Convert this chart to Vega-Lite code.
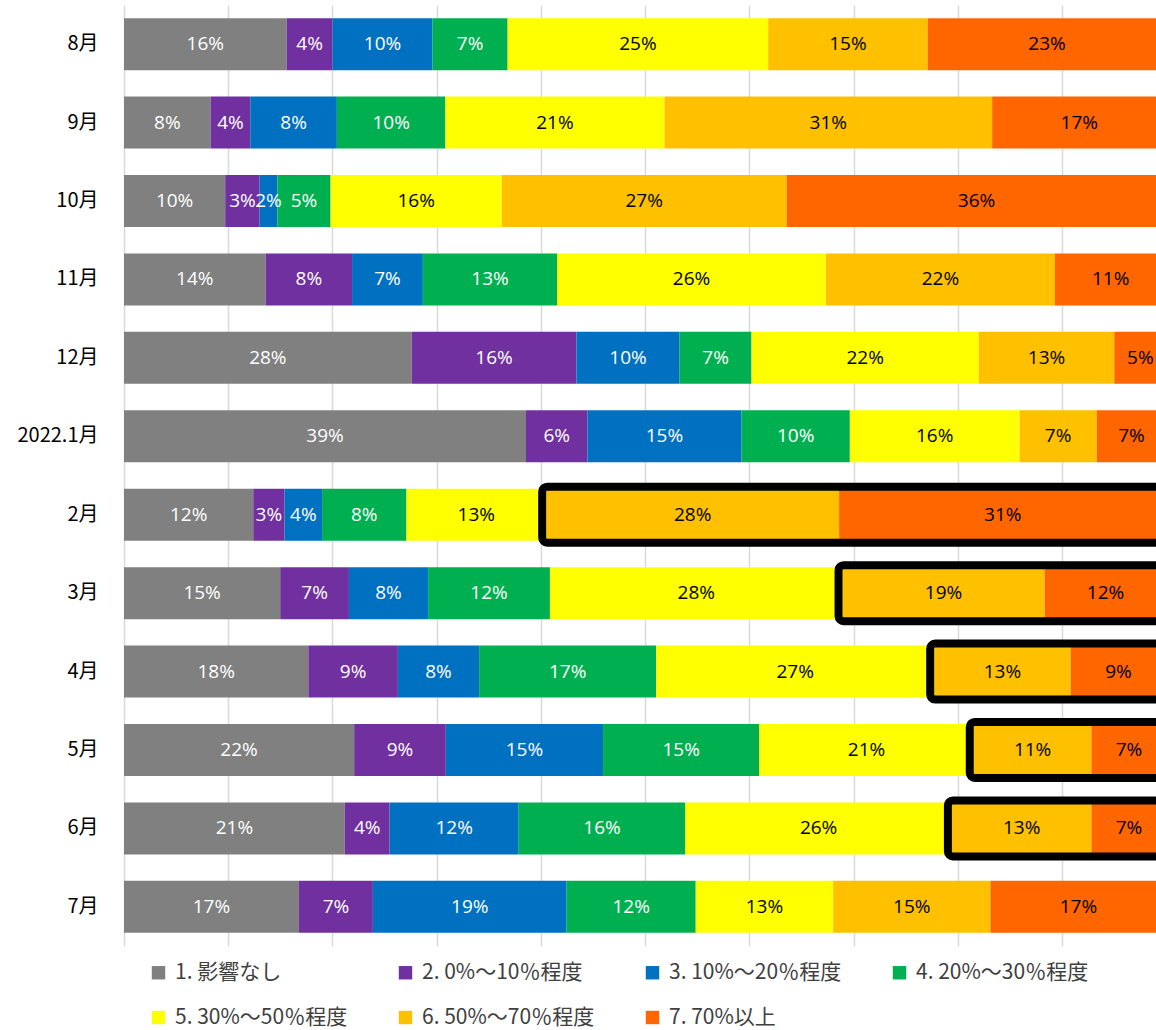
{
  "$schema": "https://vega.github.io/schema/vega-lite/v6.json",
  "width": 1032,
  "height": 941,
  "autosize": {"type": "none"},
  "padding": {"left": 124, "top": 5, "right": 0, "bottom": 84},
  "background": "white",
  "config": {"view": {"stroke": null}, "font": "Noto Sans CJK JP"},
  "data": {"values": [
    {"month": "8月", "cat": "1. 影響なし", "v": 0.156},
    {"month": "8月", "cat": "2. 0%～10％程度", "v": 0.044},
    {"month": "8月", "cat": "3. 10%～20％程度", "v": 0.096},
    {"month": "8月", "cat": "4. 20%～30％程度", "v": 0.072},
    {"month": "8月", "cat": "5. 30%～50％程度", "v": 0.250},
    {"month": "8月", "cat": "6. 50%～70％程度", "v": 0.153},
    {"month": "8月", "cat": "7. 70%以上", "v": 0.229},
    {"month": "9月", "cat": "1. 影響なし", "v": 0.083},
    {"month": "9月", "cat": "2. 0%～10％程度", "v": 0.038},
    {"month": "9月", "cat": "3. 10%～20％程度", "v": 0.083},
    {"month": "9月", "cat": "4. 20%～30％程度", "v": 0.104},
    {"month": "9月", "cat": "5. 30%～50％程度", "v": 0.210},
    {"month": "9月", "cat": "6. 50%～70％程度", "v": 0.314},
    {"month": "9月", "cat": "7. 70%以上", "v": 0.167},
    {"month": "10月", "cat": "1. 影響なし", "v": 0.097},
    {"month": "10月", "cat": "2. 0%～10％程度", "v": 0.033},
    {"month": "10月", "cat": "3. 10%～20％程度", "v": 0.017},
    {"month": "10月", "cat": "4. 20%～30％程度", "v": 0.051},
    {"month": "10月", "cat": "5. 30%～50％程度", "v": 0.164},
    {"month": "10月", "cat": "6. 50%～70％程度", "v": 0.273},
    {"month": "10月", "cat": "7. 70%以上", "v": 0.364},
    {"month": "11月", "cat": "1. 影響なし", "v": 0.136},
    {"month": "11月", "cat": "2. 0%～10％程度", "v": 0.083},
    {"month": "11月", "cat": "3. 10%～20％程度", "v": 0.068},
    {"month": "11月", "cat": "4. 20%～30％程度", "v": 0.129},
    {"month": "11月", "cat": "5. 30%～50％程度", "v": 0.258},
    {"month": "11月", "cat": "6. 50%～70％程度", "v": 0.220},
    {"month": "11月", "cat": "7. 70%以上", "v": 0.107},
    {"month": "12月", "cat": "1. 影響なし", "v": 0.276},
    {"month": "12月", "cat": "2. 0%～10％程度", "v": 0.158},
    {"month": "12月", "cat": "3. 10%～20％程度", "v": 0.099},
    {"month": "12月", "cat": "4. 20%～30％程度", "v": 0.069},
    {"month": "12月", "cat": "5. 30%～50％程度", "v": 0.218},
    {"month": "12月", "cat": "6. 50%～70％程度", "v": 0.130},
    {"month": "12月", "cat": "7. 70%以上", "v": 0.050},
    {"month": "2022.1月", "cat": "1. 影響なし", "v": 0.386},
    {"month": "2022.1月", "cat": "2. 0%～10％程度", "v": 0.059},
    {"month": "2022.1月", "cat": "3. 10%～20％程度", "v": 0.148},
    {"month": "2022.1月", "cat": "4. 20%～30％程度", "v": 0.104},
    {"month": "2022.1月", "cat": "5. 30%～50％程度", "v": 0.163},
    {"month": "2022.1月", "cat": "6. 50%～70％程度", "v": 0.074},
    {"month": "2022.1月", "cat": "7. 70%以上", "v": 0.067},
    {"month": "2月", "cat": "1. 影響なし", "v": 0.124},
    {"month": "2月", "cat": "2. 0%～10％程度", "v": 0.030},
    {"month": "2月", "cat": "3. 10%～20％程度", "v": 0.036},
    {"month": "2月", "cat": "4. 20%～30％程度", "v": 0.081},
    {"month": "2月", "cat": "5. 30%～50％程度", "v": 0.134},
    {"month": "2月", "cat": "6. 50%～70％程度", "v": 0.281},
    {"month": "2月", "cat": "7. 70%以上", "v": 0.314},
    {"month": "3月", "cat": "1. 影響なし", "v": 0.150},
    {"month": "3月", "cat": "2. 0%～10％程度", "v": 0.066},
    {"month": "3月", "cat": "3. 10%～20％程度", "v": 0.076},
    {"month": "3月", "cat": "4. 20%～30％程度", "v": 0.117},
    {"month": "3月", "cat": "5. 30%～50％程度", "v": 0.281},
    {"month": "3月", "cat": "6. 50%～70％程度", "v": 0.194},
    {"month": "3月", "cat": "7. 70%以上", "v": 0.117},
    {"month": "4月", "cat": "1. 影響なし", "v": 0.177},
    {"month": "4月", "cat": "2. 0%～10％程度", "v": 0.086},
    {"month": "4月", "cat": "3. 10%～20％程度", "v": 0.078},
    {"month": "4月", "cat": "4. 20%～30％程度", "v": 0.170},
    {"month": "4月", "cat": "5. 30%～50％程度", "v": 0.267},
    {"month": "4月", "cat": "6. 50%～70％程度", "v": 0.131},
    {"month": "4月", "cat": "7. 70%以上", "v": 0.092},
    {"month": "5月", "cat": "1. 影響なし", "v": 0.221},
    {"month": "5月", "cat": "2. 0%～10％程度", "v": 0.088},
    {"month": "5月", "cat": "3. 10%～20％程度", "v": 0.151},
    {"month": "5月", "cat": "4. 20%～30％程度", "v": 0.150},
    {"month": "5月", "cat": "5. 30%～50％程度", "v": 0.206},
    {"month": "5月", "cat": "6. 50%～70％程度", "v": 0.113},
    {"month": "5月", "cat": "7. 70%以上", "v": 0.072},
    {"month": "6月", "cat": "1. 影響なし", "v": 0.212},
    {"month": "6月", "cat": "2. 0%～10％程度", "v": 0.043},
    {"month": "6月", "cat": "3. 10%～20％程度", "v": 0.124},
    {"month": "6月", "cat": "4. 20%～30％程度", "v": 0.160},
    {"month": "6月", "cat": "5. 30%～50％程度", "v": 0.256},
    {"month": "6月", "cat": "6. 50%～70％程度", "v": 0.134},
    {"month": "6月", "cat": "7. 70%以上", "v": 0.072},
    {"month": "7月", "cat": "1. 影響なし", "v": 0.168},
    {"month": "7月", "cat": "2. 0%～10％程度", "v": 0.071},
    {"month": "7月", "cat": "3. 10%～20％程度", "v": 0.186},
    {"month": "7月", "cat": "4. 20%～30％程度", "v": 0.124},
    {"month": "7月", "cat": "5. 30%～50％程度", "v": 0.132},
    {"month": "7月", "cat": "6. 50%～70％程度", "v": 0.151},
    {"month": "7月", "cat": "7. 70%以上", "v": 0.169}
  ]},
  "transform": [
    {"stack": "v", "groupby": ["month"], "sort": [{"field": "cat", "order": "ascending"}], "as": ["x0", "x1"], "offset": "normalize"},
    {"calculate": "(datum.x0 + datum.x1) / 2", "as": "xm"}
  ],
  "encoding": {
    "y": {
      "field": "month", "type": "nominal", "title": null,
      "sort": ["8月", "9月", "10月", "11月", "12月", "2022.1月", "2月", "3月", "4月", "5月", "6月", "7月"],
      "scale": {"paddingInner": 0.337, "paddingOuter": 0.168},
      "axis": {"domain": false, "ticks": false, "grid": false, "labelFontSize": 20, "labelColor": "black", "labelPadding": 26, "labelFont": "Noto Sans CJK JP"}
    }
  },
  "layer": [
    {
      "mark": {"type": "bar", "clip": true},
      "encoding": {
        "x": {
          "field": "x0", "type": "quantitative", "title": null,
          "scale": {"domain": [0, 0.99], "nice": false, "zero": true},
          "axis": {"values": [0, 0.1, 0.2, 0.3, 0.4, 0.5, 0.6, 0.7, 0.8, 0.9], "grid": true, "gridColor": "#d9d9d9", "gridWidth": 1.5, "labels": false, "ticks": false, "domain": false, "title": null}
        },
        "x2": {"field": "x1"},
        "color": {
          "field": "cat", "type": "nominal",
          "scale": {
            "domain": ["1. 影響なし", "2. 0%～10％程度", "3. 10%～20％程度", "4. 20%～30％程度", "5. 30%～50％程度", "6. 50%～70％程度", "7. 70%以上"],
            "range": ["#808080", "#7030A0", "#0070C0", "#00B050", "#FFFF00", "#FFC000", "#FF6600"]
          },
          "legend": {
            "orient": "none", "legendX": 24, "legendY": 957, "direction": "horizontal", "columns": 4,
            "title": null, "symbolType": "square", "symbolSize": 180, "symbolStrokeWidth": 0,
            "labelFontSize": 21, "labelColor": "#404040", "labelFont": "Noto Sans CJK JP",
            "gridAlign": "all", "columnPadding": 47, "rowPadding": 23, "labelOffset": 6, "labelLimit": 400
          }
        }
      }
    },
    {
      "mark": {"type": "text", "fontSize": 19, "font": "Open Sans"},
      "encoding": {
        "x": {"field": "xm", "type": "quantitative", "title": null},
        "text": {"field": "v", "type": "quantitative", "format": ".0%"},
        "color": {"condition": {"test": "datum.cat < '5'", "value": "white"}, "value": "black"}
      }
    },
    {
      "transform": [
        {"filter": {"field": "month", "oneOf": ["2月", "3月", "4月", "5月", "6月"]}},
        {"filter": "datum.cat >= '6'"},
        {"aggregate": [{"op": "min", "field": "x0", "as": "b0"}, {"op": "max", "field": "x1", "as": "b1"}], "groupby": ["month"]}
      ],
      "mark": {"type": "bar", "filled": false, "stroke": "black", "strokeWidth": 8, "cornerRadius": 5, "clip": true, "xOffset": -4, "height": {"band": 1.077}},
      "encoding": {
        "x": {"field": "b0", "type": "quantitative", "title": null},
        "x2": {"field": "b1"}
      }
    }
  ]
}
